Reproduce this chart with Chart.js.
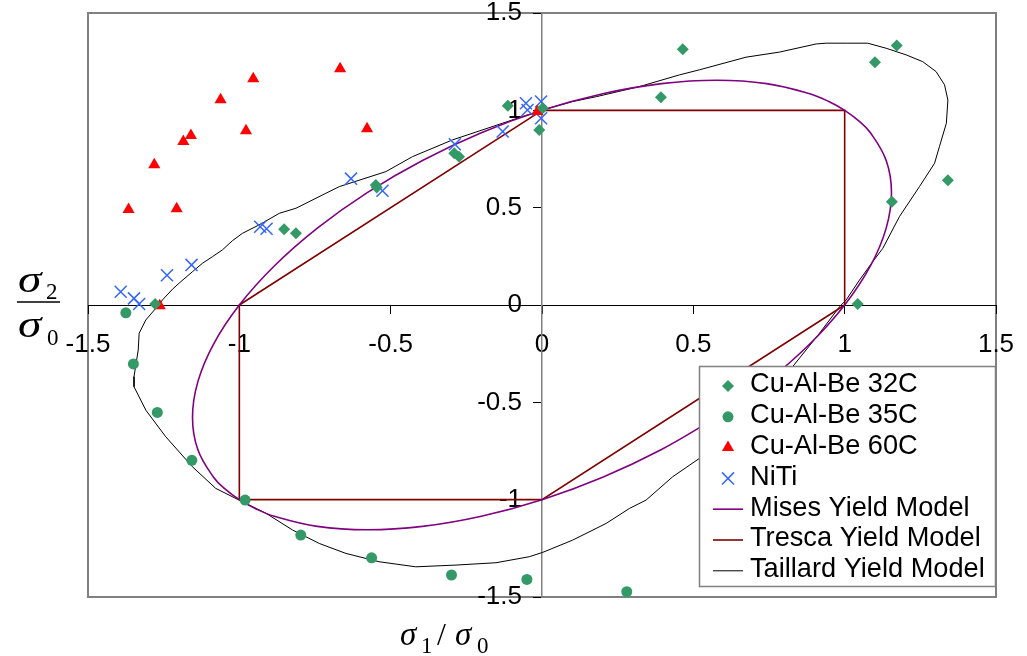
<!DOCTYPE html>
<html><head><meta charset="utf-8">
<script src="https://cdn.jsdelivr.net/npm/chart.js@4.4.0/dist/chart.umd.min.js"></script>
<style>html,body{margin:0;padding:0;background:#fff;}#wrap{width:1027px;height:656px;position:relative;}</style>
</head><body><div id="wrap"><canvas id="c" width="1027" height="656"></canvas></div>
<script>
// ---- data ----
const seriesNames = ['Cu-Al-Be 32C','Cu-Al-Be 35C','Cu-Al-Be 60C','NiTi','Mises Yield Model','Tresca Yield Model','Taillard Yield Model'];
const tickValues = [-1.5,-1,-0.5,0,0.5,1,1.5];
const xTickLabels = ['-1.5','-1','-0.5','0','0.5','1','1.5'];
const yTickLabels = ['-1.5','-1','-0.5','0','0.5','1','1.5'];

const cu32X = [-0.113,0.002,-0.009,-0.290,-0.274,-0.549,-0.546,-0.852,-0.813,-1.278,0.465,0.393,1.172,1.100,1.341,1.156,1.043];
const cu32Y = [1.024,1.011,0.899,0.780,0.762,0.617,0.603,0.389,0.368,0.005,1.314,1.067,1.333,1.247,0.641,0.531,0.005];

const cu35X = [-1.375,-1.350,-1.271,-1.157,-0.981,-0.797,-0.563,-0.299,-0.050,0.280];
const cu35Y = [-0.040,-0.303,-0.552,-0.798,-1.002,-1.182,-1.299,-1.387,-1.410,-1.473];

const cu60X = [-1.366,-1.207,-1.281,-1.185,-1.160,-1.062,-0.978,-0.954,-0.667,-0.578,-0.015,-1.263];
const cu60Y = [0.490,0.495,0.720,0.840,0.871,1.054,0.895,1.162,1.213,0.905,0.994,-0.004];

const nitiX = [-1.392,-1.348,-1.331,-1.239,-1.158,-0.931,-0.910,-0.631,-0.527,-0.288,-0.130,-0.053,-0.048,-0.003,-0.003];
const nitiY = [0.068,0.034,0.005,0.153,0.206,0.402,0.392,0.649,0.587,0.826,0.891,1.036,1.002,1.045,0.959];

const misesX = [0.5774,0.3949,0.2005,0,-0.2005,-0.3949,-0.5774,-0.7422,-0.8846,-0.9459,-1,-1.0465,-1.0851,-1.1372,-1.1547,-1.1372,-1.0851,-1,-0.8846,-0.7422,-0.5774,-0.3949,-0.2005,0,0.2005,0.3949,0.5774,0.7422,0.8846,0.9459,1,1.0465,1.0851,1.1372,1.1547,1.1372,1.0851,1,0.8846,0.7422,0.5774];
const misesY = [-0.5774,-0.7422,-0.8846,-1,-1.0851,-1.1372,-1.1547,-1.1372,-1.0851,-1.0465,-1,-0.9459,-0.8846,-0.7422,-0.5774,-0.3949,-0.2005,0,0.2005,0.3949,0.5774,0.7422,0.8846,1,1.0851,1.1372,1.1547,1.1372,1.0851,1.0465,1,0.9459,0.8846,0.7422,0.5774,0.3949,0.2005,0,-0.2005,-0.3949,-0.5774];

const trescaX = [0,1,1,0,-1,-1,0];
const trescaY = [1,1,0,-1,-1,0,1];

const taillardX = [0.002,-0.130,-0.296,-0.428,-0.516,-0.670,-0.714,-0.813,-0.868,-0.929,-0.990,-1.023,-1.056,-1.089,-1.122,-1.155,-1.199,-1.221,-1.254,-1.276,-1.309,-1.331,-1.334,-1.348,-1.348,-1.309,-1.243,-1.155,-1.078,-1.001,-0.912,-0.824,-0.736,-0.648,-0.538,-0.417,-0.284,-0.152,-0.042,0.002,0.101,0.212,0.289,0.344,0.432,0.520,0.828,0.917,0.983,1.005,1.049,1.093,1.126,1.181,1.247,1.297,1.313,1.336,1.341,1.330,1.302,1.258,1.203,1.137,1.076,1.005,0.939,0.906,0.784,0.674,0.520,0.454,0.322,0.179,0.101,0.002];
const taillardY = [1.002,0.934,0.848,0.762,0.685,0.608,0.574,0.497,0.471,0.416,0.368,0.330,0.283,0.248,0.214,0.171,0.112,0.081,0.026,-0.017,-0.077,-0.145,-0.231,-0.368,-0.420,-0.540,-0.677,-0.831,-0.942,-1.002,-1.070,-1.156,-1.225,-1.276,-1.319,-1.345,-1.336,-1.324,-1.293,-1.271,-1.208,-1.122,-1.045,-1.002,-0.882,-0.788,-0.317,-0.145,-0.009,0.026,0.128,0.223,0.291,0.454,0.608,0.728,0.813,0.934,1.053,1.131,1.199,1.250,1.285,1.319,1.345,1.345,1.345,1.341,1.299,1.273,1.208,1.182,1.122,1.070,1.045,1.002];

function pts(xs, ys){ return xs.map((x,i)=>({x:x, y:ys[i]})); }

const GREEN = '#339966', RED = '#FF0000', BLUE = '#3366FF', PURPLE = '#800080', MAROON = '#800000';

// ---- plugins ----
const frame = {
  id:'frame',
  beforeDraw(chart){
    const a = chart.chartArea, ctx = chart.ctx;
    ctx.save(); ctx.strokeStyle = '#808080'; ctx.lineWidth = 2;
    ctx.strokeRect(a.left, a.top, a.right-a.left, a.bottom-a.top);
    ctx.restore();
  }
};

function marker(ctx, ds, x, y){
  ctx.save();
  ctx.fillStyle = ds.pointBackgroundColor; ctx.strokeStyle = ds.pointBorderColor;
  ctx.lineWidth = ds.pointBorderWidth || 1;
  const r = ds.pointRadius;
  ctx.beginPath();
  if (ds.pointStyle === 'rectRot'){ ctx.moveTo(x-r,y); ctx.lineTo(x,y-r); ctx.lineTo(x+r,y); ctx.lineTo(x,y+r); ctx.closePath(); ctx.fill(); }
  else if (ds.pointStyle === 'circle'){ ctx.arc(x,y,r,0,Math.PI*2); ctx.fill(); }
  else if (ds.pointStyle === 'triangle'){ ctx.moveTo(x,y-r); ctx.lineTo(x+r*0.866,y+r/2); ctx.lineTo(x-r*0.866,y+r/2); ctx.closePath(); ctx.fill(); }
  else if (ds.pointStyle === 'crossRot'){ const d=r*0.707; ctx.moveTo(x-d,y-d); ctx.lineTo(x+d,y+d); ctx.moveTo(x+d,y-d); ctx.lineTo(x-d,y+d); ctx.stroke(); }
  ctx.restore();
}

const boxLegend = {
  id:'boxLegend',
  afterDatasetsDraw(chart){
    const ctx = chart.ctx;
    const L = 699.5, T = 366.5, W = 296, H = 220;
    ctx.save();
    ctx.fillStyle = '#fff'; ctx.fillRect(L,T,W,H);
    ctx.strokeStyle = '#808080'; ctx.lineWidth = 1.5; ctx.strokeRect(L,T,W,H);
    chart.data.datasets.forEach((ds,i)=>{
      const cy = 386 + i*30.8;
      if (ds.showLine){
        ctx.save(); ctx.strokeStyle = ds.borderColor; ctx.lineWidth = ds.borderWidth;
        ctx.beginPath(); ctx.moveTo(713,cy); ctx.lineTo(743,cy); ctx.stroke(); ctx.restore();
      } else {
        marker(ctx, ds, 728, cy);
      }
      ctx.fillStyle = '#000'; ctx.font = '27.2px "Liberation Sans", Arial, sans-serif';
      ctx.textBaseline = 'middle'; ctx.textAlign = 'left';
      ctx.fillText(ds.label, 750, cy-1);
    });
    ctx.restore();
  }
};

const axisTitles = {
  id:'axisTitles',
  afterDraw(chart){
    const ctx = chart.ctx;
    ctx.save(); ctx.fillStyle = '#000'; ctx.textBaseline = 'alphabetic'; ctx.textAlign = 'left';
    const sig = 'italic 33px "Liberation Serif", "Times New Roman", serif';
    const sub = '23px "Liberation Serif", "Times New Roman", serif';
    // bottom: σ1 / σ0
    ctx.font = sig; ctx.fillText('σ', 400, 645);
    ctx.font = sub; ctx.fillText('1', 421, 653);
    ctx.font = '32px "Liberation Serif", serif'; ctx.fillText('/', 437, 645);
    ctx.font = sig; ctx.fillText('σ', 455, 645);
    ctx.font = sub; ctx.fillText('0', 477, 653);
    // left: σ2 over σ0
    const sig2 = 'italic 38px "Liberation Serif", "Times New Roman", serif';
    function wideSigma(x, y){ ctx.save(); ctx.translate(x, y); ctx.scale(1.25, 1); ctx.font = sig2; ctx.fillText('σ', 0, 0); ctx.restore(); }
    wideSigma(18, 292);
    ctx.font = sub; ctx.fillText('2', 46, 299);
    ctx.strokeStyle = '#000'; ctx.lineWidth = 1.5;
    ctx.beginPath(); ctx.moveTo(17, 302); ctx.lineTo(60, 302); ctx.stroke();
    wideSigma(18, 337);
    ctx.font = sub; ctx.fillText('0', 47, 345);
    ctx.restore();
  }
};

const tickFont = {family:'"Liberation Sans", Arial, sans-serif', size:26};
function noPad(s){ s.paddingLeft = 0; s.paddingRight = 0; s.paddingTop = 0; s.paddingBottom = 0; }

new Chart(document.getElementById('c'), {
  type:'scatter',
  data:{ datasets:[
    {label:seriesNames[0], data:pts(cu32X,cu32Y), pointStyle:'rectRot', pointRadius:6, pointBackgroundColor:GREEN, pointBorderColor:GREEN, pointBorderWidth:0, showLine:false},
    {label:seriesNames[1], data:pts(cu35X,cu35Y), pointStyle:'circle', pointRadius:5.5, pointBackgroundColor:GREEN, pointBorderColor:GREEN, pointBorderWidth:0, showLine:false},
    {label:seriesNames[2], data:pts(cu60X,cu60Y), pointStyle:'triangle', pointRadius:7, pointBackgroundColor:RED, pointBorderColor:RED, pointBorderWidth:0, showLine:false},
    {label:seriesNames[3], data:pts(nitiX,nitiY), pointStyle:'crossRot', pointRadius:8.5, pointBackgroundColor:BLUE, pointBorderColor:BLUE, pointBorderWidth:1.5, showLine:false},
    {label:seriesNames[4], data:pts(misesX,misesY), showLine:true, borderColor:PURPLE, borderWidth:1.6, pointRadius:0, tension:0.4, fill:false},
    {label:seriesNames[5], data:pts(trescaX,trescaY), showLine:true, borderColor:MAROON, borderWidth:1.6, pointRadius:0, tension:0, fill:false},
    {label:seriesNames[6], data:pts(taillardX,taillardY), showLine:true, borderColor:'#000', borderWidth:1, pointRadius:0, tension:0, fill:false}
  ]},
  options:{
    responsive:false, animation:false, devicePixelRatio:1, events:[],
    layout:{padding:{left:88, top:13, right:31, bottom:59}},
    plugins:{legend:{display:false}, tooltip:{enabled:false}, title:{display:false}},
    scales:{
      x:{type:'linear', position:'center', min:-1.5, max:1.5,
        afterBuildTicks:(s)=>{ s.ticks = tickValues.map(v=>({value:v})); },
        afterFit: noPad,
        ticks:{autoSkip:false, maxRotation:0, font:tickFont, color:'#000', padding:16, callback:(v,i)=>xTickLabels[i]},
        grid:{drawOnChartArea:false, drawTicks:true, tickLength:8, color:'#000', tickWidth:1},
        border:{display:true, color:'#000', width:1}},
      y:{type:'linear', position:'center', min:-1.5, max:1.5,
        afterBuildTicks:(s)=>{ s.ticks = tickValues.map(v=>({value:v})); },
        afterFit: noPad,
        ticks:{autoSkip:false, font:tickFont, color:'#000', padding:12, callback:(v,i)=>yTickLabels[i]},
        grid:{drawOnChartArea:false, drawTicks:true, tickLength:8, color:'#000', tickWidth:1},
        border:{display:true, color:'#808080', width:1.5}}
    }
  },
  plugins:[frame, boxLegend, axisTitles]
});
</script></body></html>
